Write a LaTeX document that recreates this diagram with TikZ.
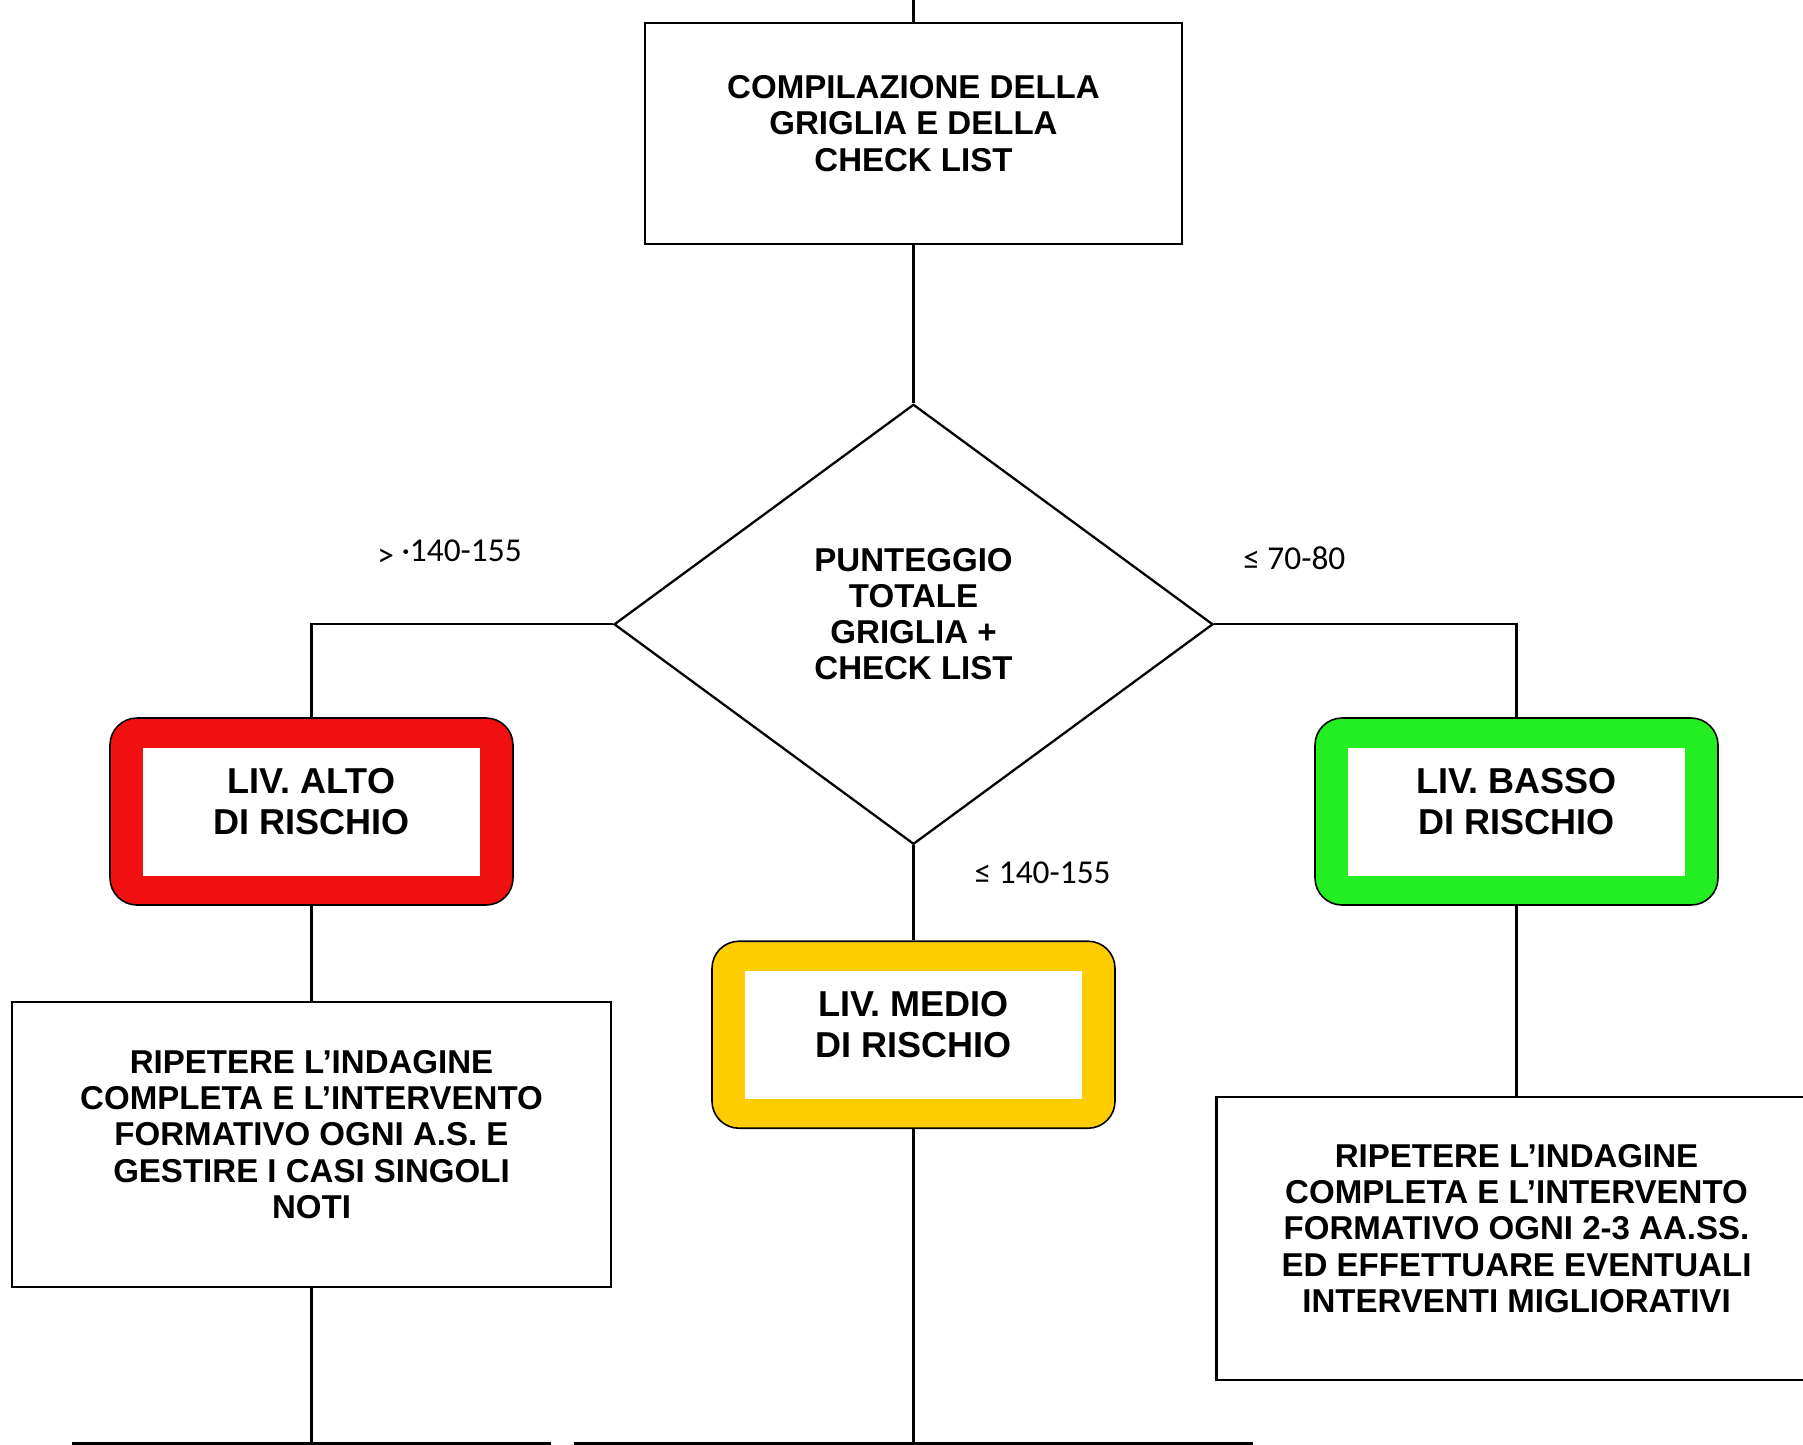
\documentclass[tikz,border=0pt]{standalone}
\usepackage{fontspec}
\setmainfont{Liberation Sans}
\newfontfamily\soglie{Carlito}
\usetikzlibrary{positioning, shapes.geometric}

\definecolor{rischioalto}{RGB}{240,16,16}
\definecolor{rischiomedio}{RGB}{255,204,0}
\definecolor{rischiobasso}{RGB}{34,238,34}

\begin{document}
\begin{tikzpicture}[
    node distance=1.9cm,
    line width=1.3pt,
    box/.style={draw, inner sep=0pt},
    dec/.style={draw, diamond, minimum width=11.98cm, minimum height=8.8cm,
                inner sep=0pt},
    testo/.style={align=center, inner sep=0pt, yshift=0.2cm,
                  font=\fontsize{18.8}{20.6}\selectfont\bfseries},
    liv/.style={draw, line width=0.9pt, rounded corners=0.54cm,
                minimum width=8.06cm, minimum height=3.74cm},
    livin/.style={fill=white, minimum width=6.74cm, minimum height=2.56cm,
                  inner sep=0pt},
    livtesto/.style={testo, font=\fontsize{20.5}{23.5}\selectfont\bfseries},
    soglia/.style={inner sep=0pt, font=\soglie\fontsize{19}{22}\selectfont},
    fine/.style={draw, line width=4pt, minimum height=3cm}
]
\useasboundingbox (0,0) rectangle (36.06,-28.88);
\clip (0,0) rectangle (36.06,-28.88);

%---------------- Compilazione e punteggio ----------------
\node[box, minimum width=10.74cm, minimum height=4.42cm] (start) at (18.27,-2.67) {};
\node[testo] (startT) at (start) {COMPILAZIONE DELLA\\GRIGLIA E DELLA\\CHECK LIST};
\coordinate[above=0.6cm of start.north] (in);

\node[dec, below=3.16cm of start] (punti) {};
\node[testo] (puntiT) at (punti) {PUNTEGGIO\\TOTALE\\GRIGLIA +\\CHECK LIST};

\draw (in) -- (start);
\draw (start) -- (punti);

%---------------- Livelli di rischio ----------------
\node[liv, fill=rischioalto] (alto) at (6.23,-16.23) {};
\node[livin] (altoW) at (alto) {};
\node[livtesto] (altoT) at (alto) {LIV. ALTO\\DI RISCHIO};

\node[liv, fill=rischiobasso] (basso) at (30.33,-16.23) {};
\node[livin] (bassoW) at (basso) {};
\node[livtesto] (bassoT) at (basso) {LIV. BASSO\\DI RISCHIO};

\node[liv, fill=rischiomedio, below=of punti] (medio) {};
\node[livin] (medioW) at (medio) {};
\node[livtesto] (medioT) at (medio) {LIV. MEDIO\\DI RISCHIO};

\draw (punti.west) -| (alto);
\draw (punti.east) -| (basso);
\draw (punti) -- (medio);

\node[soglia, above left=1.14cm and 1.8cm of punti.west] (sogliaA)
    {\raisebox{-0.1cm}{>} ·140-155};
\node[soglia, above right=1.06cm and 0.56cm of punti.east] (sogliaB) {≤ 70-80};
\node[soglia, above right=1.12cm and 1.2cm of medio.north] (sogliaM) {≤ 140-155};

%---------------- Interventi ----------------
\node[box, minimum width=11.98cm, minimum height=5.7cm, below=of alto] (annuale) {};
\node[testo] (annualeT) at (annuale)
    {RIPETERE L’INDAGINE\\COMPLETA E L’INTERVENTO\\FORMATIVO OGNI A.S. E\\GESTIRE I CASI SINGOLI\\NOTI};
\node[box, minimum width=12cm, minimum height=5.66cm, below=3.8cm of basso] (triennale) {};
\node[testo] (triennaleT) at (triennale)
    {RIPETERE L’INDAGINE\\COMPLETA E L’INTERVENTO\\FORMATIVO OGNI 2-3 AA.SS.\\ED EFFETTUARE EVENTUALI\\INTERVENTI MIGLIORATIVI};

\draw (alto) -- (annuale);
\draw (basso) -- (triennale);

%---------------- Passi successivi (tagliati) ----------------
\node[fine, minimum width=9.42cm, below=3.08cm of annuale] (fineA) {};
\node[fine, minimum width=13.44cm, below=6.26cm of medio] (fineM) {};

\draw (annuale) -- (fineA);
\draw (medio) -- (fineM);

\end{tikzpicture}
\end{document}
